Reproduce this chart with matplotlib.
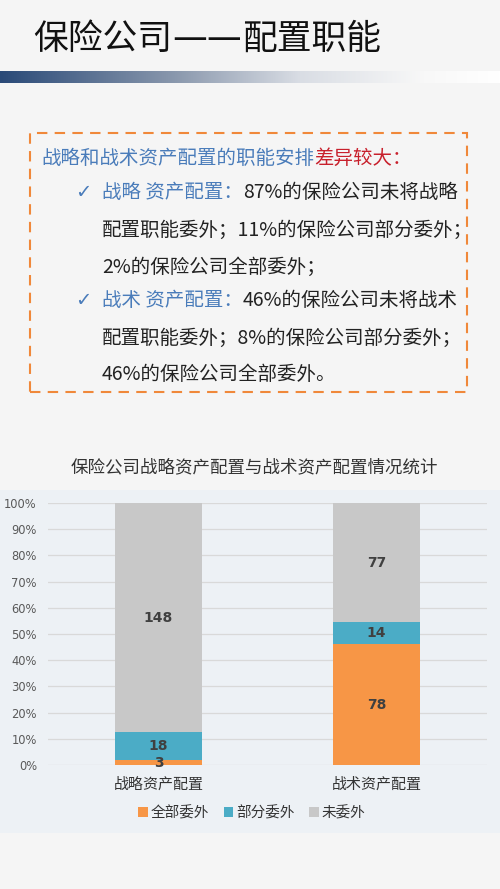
import matplotlib
matplotlib.use("Agg")
import matplotlib.pyplot as plt
import numpy as np
from matplotlib.patches import Rectangle
from matplotlib.colors import LinearSegmentedColormap

plt.rcParams['font.family'] = ['Noto Sans CJK SC', 'DejaVu Sans']

# ---- data ----
categories = ["战略资产配置", "战术资产配置"]
series_names = ["全部委外", "部分委外", "未委外"]
full_out = [3, 78]
part_out = [18, 14]
not_out = [148, 77]
y_ticks = [0, 10, 20, 30, 40, 50, 60, 70, 80, 90, 100]
y_tick_labels = [f"{v}%" for v in y_ticks]

chart_title = "保险公司战略资产配置与战术资产配置情况统计"

W, H = 500, 889
fig = plt.figure(figsize=(W / 100, H / 100), dpi=100)
fig.patch.set_facecolor("#f5f5f5")

def fx(px):
    return px / W

def fy(py):
    return 1 - py / H

fig.canvas.draw()
renderer = fig.canvas.get_renderer()

def seq_text(x_px, y_px, pieces, fs):
    x = x_px
    for p in pieces:
        s, c = p[0], p[1]
        fam = p[2] if len(p) > 2 else None
        kw = {} if fam is None else {"family": fam}
        t = fig.text(fx(x), fy(y_px), s, fontsize=fs, color=c, ha="left", va="center", **kw)
        bb = t.get_window_extent(renderer=renderer)
        x += bb.width

# page title
seq_text(33, 39, [("保险公司", "#111111"), ("——", "#111111", ['DejaVu Sans']),
                  ("配置职能", "#111111")], 25)

# gradient bar
gax = fig.add_axes([0, fy(83), 1, (83 - 71) / H])
cmap = LinearSegmentedColormap.from_list(
    "g", [(0, "#2a4a78"), (0.35, "#8a98ad"), (0.6, "#d9dde4"), (0.85, "#f8f8f8"), (1, "#ffffff")])
gax.imshow(np.linspace(0, 1, 256)[None, :], aspect="auto", cmap=cmap)
gax.axis("off")

# dashed box
fig.patches.append(Rectangle((fx(30), fy(392)), fx(467) - fx(30), fy(133) - fy(392),
                             transform=fig.transFigure, fill=False,
                             edgecolor="#f0883a", lw=1.5, linestyle=(0, (5, 3.5))))

BLUE = "#4a7cba"
RED = "#c8202c"
BLACK = "#222222"
FS = 14

seq_text(41, 158, [("战略和战术资产配置的职能安排", BLUE), ("差异较大：", RED)], FS)
fig.text(fx(75), fy(192), "✓", fontsize=FS, color=BLUE, ha="left", va="center",
         family=['DejaVu Sans'])
seq_text(102, 192, [("战略 资产配置：", BLUE), ("87%的保险公司未将战略", BLACK)], FS)
seq_text(102, 230, [("配置职能委外；11%的保险公司部分委外；", BLACK)], FS)
seq_text(102, 267, [("2%的保险公司全部委外；", BLACK)], FS)
fig.text(fx(75), fy(300), "✓", fontsize=FS, color=BLUE, ha="left", va="center",
         family=['DejaVu Sans'])
seq_text(102, 300, [("战术 资产配置：", BLUE), ("46%的保险公司未将战术", BLACK)], FS)
seq_text(102, 338, [("配置职能委外；8%的保险公司部分委外；", BLACK)], FS)
seq_text(102, 375, [("46%的保险公司全部委外。", BLACK)], FS)

# chart panel
fig.patches.append(Rectangle((0, fy(833)), 1, fy(490) - fy(833),
                             transform=fig.transFigure, facecolor="#edf1f5",
                             edgecolor="none", zorder=-1))

fig.text(fx(254), fy(467), chart_title, fontsize=12.6, color="#333333",
         ha="center", va="center")

ax = fig.add_axes([fx(48), fy(765), fx(487) - fx(48), fy(503) - fy(765)])
ax.set_zorder(1)
ax.set_facecolor("none")

totals = np.array(full_out) + np.array(part_out) + np.array(not_out)
s1 = np.array(full_out) / totals * 100
s2 = np.array(part_out) / totals * 100
s3 = np.array(not_out) / totals * 100
x = np.arange(len(categories))
colors = ["#f79646", "#4bacc6", "#c8c8c8"]
bw = 0.4
b1 = ax.bar(x, s1, bw, color=colors[0], label=series_names[0], zorder=2)
b2 = ax.bar(x, s2, bw, bottom=s1, color=colors[1], label=series_names[1], zorder=2)
b3 = ax.bar(x, s3, bw, bottom=s1 + s2, color=colors[2], label=series_names[2], zorder=2)
for bars, vals in ((b1, full_out), (b2, part_out), (b3, not_out)):
    ax.bar_label(bars, labels=[str(v) for v in vals], label_type="center",
                 fontsize=10, fontweight="bold", color="#404040",
                 family=['DejaVu Sans'])

ax.set_xlim(-0.507, 1.507)
ax.set_ylim(0, 100)
ax.set_yticks(y_ticks)
ax.set_yticklabels(y_tick_labels, fontsize=8.3, color="#595959", family=['DejaVu Sans'])
ax.set_xticks(x)
ax.set_xticklabels(categories, fontsize=10.8, color="#333333")
ax.tick_params(axis="both", length=0)
ax.tick_params(axis="y", pad=8)
ax.tick_params(axis="x", pad=9)
ax.grid(axis="y", color="#d9d9d9", lw=0.9, zorder=0)
for sp in ax.spines.values():
    sp.set_visible(False)

leg = fig.legend(handles=[b1, b2, b3], labels=series_names, loc="center",
                 bbox_to_anchor=(fx(252), fy(813)), ncol=3, frameon=False,
                 fontsize=10.5, handlelength=0.65, handleheight=0.65,
                 handletextpad=0.2, columnspacing=1.0, labelcolor="#333333")

fig.savefig("out.png", dpi=100, facecolor=fig.get_facecolor())
